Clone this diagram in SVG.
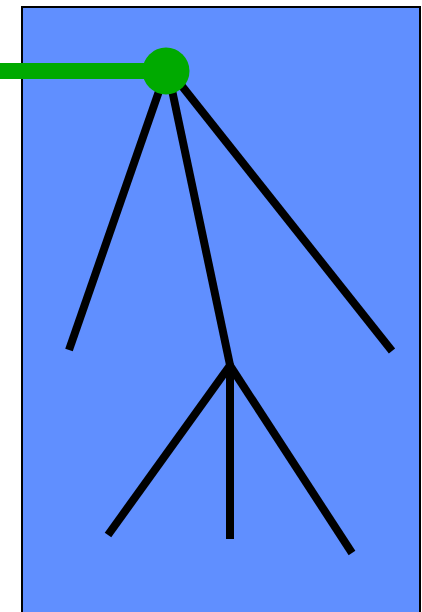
<svg xmlns="http://www.w3.org/2000/svg" width="422" height="612" viewBox="0 0 422 612">
<style>
.edge{stroke:#000;stroke-width:8;fill:none;stroke-linecap:butt}
</style>
<g id="frame"><rect x="22" y="7" width="398" height="610" fill="#608FFF" stroke="#000" stroke-width="2"/></g>
<g id="connectors">
<line class="edge" x1="166" y1="71" x2="69" y2="350"/>
<line class="edge" x1="168" y1="71" x2="230" y2="365"/>
<line class="edge" x1="170" y1="71" x2="392" y2="351"/>
<line class="edge" x1="231" y1="364" x2="108" y2="535"/>
<line class="edge" x1="230" y1="364" x2="230" y2="539"/>
<line class="edge" x1="229" y1="364" x2="352" y2="553"/>
<line x1="0" y1="71" x2="166" y2="71" stroke="#00AA00" stroke-width="16"/>
</g>
<g id="node-root"><circle cx="166" cy="71" r="23.5" fill="#00AA00"/></g>
</svg>
